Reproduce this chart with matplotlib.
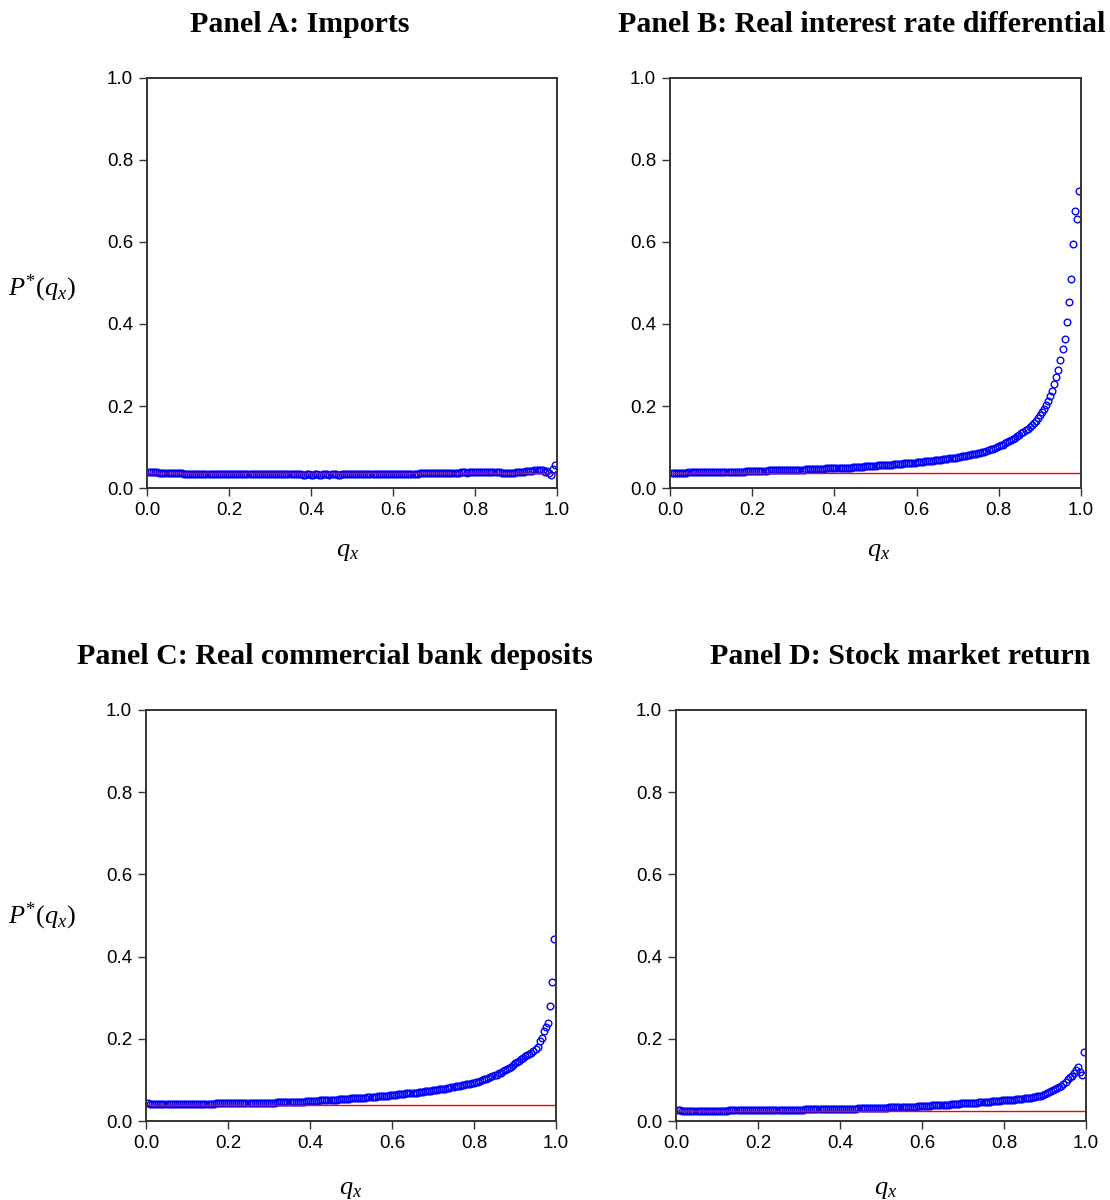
import numpy as np
import matplotlib
matplotlib.use("Agg")
import matplotlib.pyplot as plt

plt.rcParams["mathtext.fontset"] = "custom"
plt.rcParams["mathtext.rm"] = "Liberation Serif"
plt.rcParams["mathtext.it"] = "Liberation Serif:italic"
plt.rcParams["mathtext.bf"] = "Liberation Serif:bold"

# quantile grid q_x
q = np.round(np.arange(1, 200) * 0.005, 3)

# Panel A: Imports
p_imports = [
    0.039,0.038,0.038,0.038,0.038,0.037,0.037,0.037,0.037,0.037,
    0.036,0.036,0.036,0.036,0.036,0.036,0.036,0.035,0.035,0.035,
    0.035,0.035,0.035,0.035,0.035,0.035,0.035,0.035,0.035,0.034,
    0.034,0.034,0.034,0.034,0.034,0.034,0.034,0.034,0.034,0.034,
    0.034,0.034,0.034,0.034,0.034,0.034,0.034,0.034,0.034,0.034,
    0.034,0.034,0.034,0.034,0.033,0.033,0.033,0.033,0.033,0.033,
    0.033,0.033,0.033,0.033,0.033,0.033,0.033,0.033,0.033,0.033,
    0.033,0.033,0.033,0.033,0.033,0.032,0.032,0.033,0.033,0.032,
    0.032,0.033,0.033,0.032,0.032,0.033,0.033,0.033,0.032,0.033,
    0.033,0.033,0.032,0.032,0.033,0.033,0.033,0.033,0.033,0.033,
    0.033,0.033,0.033,0.033,0.033,0.033,0.034,0.034,0.033,0.034,
    0.034,0.034,0.034,0.034,0.034,0.034,0.034,0.034,0.034,0.034,
    0.034,0.034,0.035,0.035,0.035,0.035,0.035,0.035,0.035,0.035,
    0.035,0.035,0.036,0.036,0.036,0.036,0.036,0.036,0.036,0.036,
    0.036,0.036,0.037,0.037,0.037,0.037,0.037,0.037,0.037,0.037,
    0.037,0.037,0.038,0.038,0.038,0.037,0.038,0.038,0.038,0.038,
    0.038,0.038,0.038,0.038,0.039,0.038,0.038,0.039,0.039,0.038,
    0.038,0.039,0.037,0.036,0.036,0.037,0.036,0.036,0.037,0.038,
    0.038,0.039,0.040,0.040,0.041,0.041,0.042,0.042,0.043,0.044,
    0.043,0.045,0.044,0.040,0.042,0.036,0.031,0.046,0.056,
]

# Panel B: Real interest rate differential
p_interest = [
    0.037,0.037,0.037,0.037,0.037,0.037,0.037,0.037,0.038,0.038,
    0.038,0.038,0.038,0.038,0.038,0.038,0.038,0.038,0.038,0.038,
    0.038,0.038,0.039,0.039,0.039,0.039,0.039,0.039,0.039,0.040,
    0.040,0.040,0.040,0.040,0.040,0.040,0.041,0.041,0.041,0.041,
    0.041,0.041,0.042,0.042,0.042,0.042,0.042,0.043,0.043,0.043,
    0.043,0.043,0.043,0.044,0.044,0.044,0.044,0.044,0.044,0.044,
    0.045,0.045,0.045,0.045,0.045,0.046,0.046,0.046,0.046,0.046,
    0.047,0.047,0.047,0.047,0.047,0.048,0.048,0.048,0.048,0.048,
    0.049,0.049,0.049,0.049,0.050,0.050,0.050,0.050,0.051,0.051,
    0.051,0.052,0.052,0.052,0.053,0.053,0.053,0.054,0.054,0.054,
    0.055,0.055,0.055,0.056,0.056,0.056,0.057,0.057,0.058,0.058,
    0.058,0.059,0.059,0.060,0.060,0.061,0.061,0.062,0.062,0.063,
    0.063,0.064,0.064,0.065,0.065,0.066,0.066,0.067,0.068,0.068,
    0.069,0.069,0.070,0.071,0.071,0.072,0.073,0.074,0.074,0.075,
    0.076,0.077,0.078,0.079,0.080,0.081,0.082,0.083,0.084,0.085,
    0.086,0.087,0.089,0.090,0.092,0.094,0.096,0.098,0.100,0.102,
    0.104,0.106,0.109,0.111,0.114,0.117,0.120,0.123,0.126,0.129,
    0.133,0.137,0.141,0.145,0.149,0.154,0.159,0.164,0.170,0.177,
    0.185,0.193,0.202,0.213,0.224,0.237,0.253,0.271,0.288,0.311,
    0.339,0.364,0.405,0.454,0.509,0.595,0.675,0.657,0.725,
]

# Panel C: Real commercial bank deposits
p_deposits = [
    0.043,0.042,0.042,0.042,0.042,0.042,0.042,0.042,0.042,0.042,
    0.042,0.042,0.042,0.042,0.042,0.042,0.042,0.042,0.042,0.042,
    0.042,0.042,0.042,0.042,0.042,0.042,0.042,0.042,0.042,0.042,
    0.042,0.042,0.042,0.043,0.043,0.043,0.043,0.043,0.043,0.043,
    0.043,0.043,0.043,0.043,0.044,0.044,0.044,0.044,0.044,0.044,
    0.044,0.044,0.044,0.044,0.045,0.045,0.045,0.045,0.045,0.045,
    0.045,0.045,0.045,0.046,0.046,0.046,0.046,0.046,0.046,0.046,
    0.046,0.047,0.047,0.047,0.047,0.047,0.047,0.048,0.048,0.048,
    0.048,0.049,0.049,0.049,0.050,0.050,0.050,0.051,0.051,0.051,
    0.052,0.052,0.052,0.053,0.053,0.053,0.054,0.054,0.054,0.055,
    0.055,0.055,0.056,0.056,0.056,0.057,0.057,0.058,0.058,0.058,
    0.059,0.059,0.060,0.060,0.061,0.061,0.062,0.062,0.063,0.063,
    0.064,0.064,0.065,0.065,0.066,0.066,0.067,0.067,0.068,0.068,
    0.069,0.069,0.070,0.071,0.071,0.072,0.073,0.073,0.074,0.075,
    0.075,0.076,0.077,0.078,0.079,0.079,0.080,0.081,0.082,0.083,
    0.084,0.085,0.086,0.087,0.088,0.089,0.090,0.091,0.092,0.093,
    0.095,0.096,0.098,0.099,0.101,0.103,0.105,0.107,0.109,0.111,
    0.113,0.116,0.118,0.121,0.123,0.126,0.129,0.132,0.136,0.140,
    0.143,0.146,0.150,0.154,0.157,0.161,0.164,0.166,0.171,0.176,
    0.179,0.195,0.201,0.219,0.229,0.239,0.281,0.339,0.443,
]

# Panel D: Stock market return
p_stock = [
    0.026,0.026,0.025,0.025,0.025,0.025,0.025,0.025,0.025,0.025,
    0.025,0.025,0.025,0.025,0.025,0.025,0.025,0.025,0.025,0.025,
    0.025,0.025,0.025,0.025,0.025,0.026,0.026,0.026,0.026,0.026,
    0.026,0.026,0.026,0.026,0.026,0.026,0.026,0.026,0.026,0.026,
    0.026,0.026,0.026,0.027,0.027,0.027,0.027,0.027,0.027,0.027,
    0.027,0.027,0.027,0.027,0.027,0.027,0.027,0.027,0.027,0.027,
    0.027,0.027,0.028,0.028,0.028,0.028,0.028,0.028,0.028,0.028,
    0.028,0.028,0.028,0.029,0.029,0.029,0.029,0.029,0.029,0.029,
    0.029,0.029,0.030,0.030,0.030,0.030,0.030,0.030,0.031,0.031,
    0.031,0.031,0.031,0.031,0.032,0.032,0.032,0.032,0.032,0.032,
    0.032,0.032,0.032,0.033,0.033,0.033,0.033,0.033,0.033,0.034,
    0.034,0.034,0.034,0.034,0.035,0.035,0.035,0.036,0.036,0.036,
    0.036,0.037,0.037,0.037,0.038,0.038,0.038,0.039,0.039,0.039,
    0.040,0.040,0.040,0.041,0.041,0.041,0.042,0.042,0.043,0.043,
    0.043,0.044,0.044,0.044,0.045,0.045,0.045,0.046,0.046,0.046,
    0.047,0.047,0.047,0.048,0.048,0.048,0.049,0.049,0.050,0.050,
    0.051,0.051,0.051,0.052,0.052,0.053,0.053,0.054,0.054,0.055,
    0.055,0.056,0.057,0.058,0.059,0.060,0.061,0.062,0.064,0.066,
    0.068,0.070,0.073,0.075,0.078,0.080,0.083,0.086,0.090,0.094,
    0.102,0.106,0.110,0.116,0.123,0.131,0.119,0.111,0.167,
]

# unconditional probabilities (red reference lines)
uncond = [0.037, 0.036, 0.040, 0.025]

titles = ["Panel A: Imports", "Panel B: Real interest rate differential",
          "Panel C: Real commercial bank deposits", "Panel D: Stock market return"]
series = [p_imports, p_interest, p_deposits, p_stock]
ticks = [0.0, 0.2, 0.4, 0.6, 0.8, 1.0]
tick_labels = ["0.0", "0.2", "0.4", "0.6", "0.8", "1.0"]

W, H = 1110, 1200
fig = plt.figure(figsize=(W / 100, H / 100), dpi=100)

# axes rectangles in pixel coords (left, top, right, bottom)
rects = [(147, 78, 557, 488), (670, 78, 1081, 488),
         (146, 710, 556, 1121), (676, 710, 1086, 1121)]
title_pos = [(300, 24), (862, 24), (335, 657), (900, 657)]
xlab_pos = [(348, 550), (879, 550), (351, 1188), (886, 1188)]
ylab_pos = [(42, 288), None, (42, 916), None]

serif = ["Liberation Serif", "DejaVu Serif"]
sans = ["Liberation Sans", "DejaVu Sans"]

for i in range(4):
    l, t, r, b = rects[i]
    ax = fig.add_axes([l / W, 1 - b / H, (r - l) / W, (b - t) / H])
    ax.plot(q, series[i], linestyle="none", marker="o", markersize=4.8,
            markerfacecolor="none", markeredgecolor="#0000ff", markeredgewidth=1.0)
    ax.plot([q[0], q[-1]], [uncond[i], uncond[i]], color="#ff0000", linewidth=1.0)
    ax.set_xlim(0.0, 1.0)
    ax.set_ylim(0.0, 1.0)
    ax.set_xticks(ticks)
    ax.set_xticklabels(tick_labels, fontfamily=sans, fontsize=13.5)
    ax.set_yticks(ticks)
    ax.set_yticklabels(tick_labels, fontfamily=sans, fontsize=13.5)
    ax.tick_params(direction="out", length=6, width=1.0, color="#333333", pad=4)
    for s in ax.spines.values():
        s.set_linewidth(1.4)
        s.set_color("#333333")
    tx, ty = title_pos[i]
    fig.text(tx / W, 1 - ty / H, titles[i], ha="center", va="center",
             fontfamily=serif, fontweight="bold", fontsize=21.5)
    xx, xy = xlab_pos[i]
    fig.text(xx / W, 1 - xy / H, r"$q_x$", ha="center", va="center", fontsize=19)
    if ylab_pos[i] is not None:
        yx, yy = ylab_pos[i]
        fig.text(yx / W, 1 - yy / H, r"$P^{*}(q_x)$", ha="center", va="center",
                 fontsize=19)

fig.savefig("out.png", dpi=100)
